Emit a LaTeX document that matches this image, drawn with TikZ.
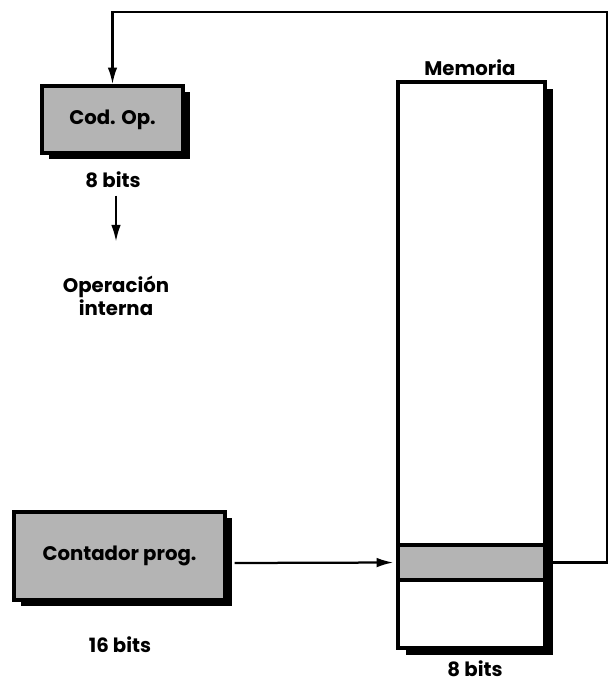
\documentclass[tikz,border=0pt]{standalone}
\usepackage{fontspec}
\setmainfont{Poppins}
\usepackage{tikz}
\usetikzlibrary{arrows.meta,positioning,shadows}
\definecolor{regfill}{HTML}{B4B4B4}

\tikzset{
  regbox/.style={draw=black,line width=2.4pt,fill=regfill,
    font=\bfseries\fontsize{14}{16}\selectfont,inner sep=0pt,
    drop shadow={shadow xshift=0.17cm,shadow yshift=-0.14cm,fill=black,opacity=1}},
  membox/.style={draw=black,line width=2.4pt,fill=white,inner sep=0pt,
    drop shadow={shadow xshift=0.2cm,shadow yshift=-0.18cm,fill=black,opacity=1}},
  lbl/.style={font=\bfseries\fontsize{14}{16}\selectfont,align=center,inner sep=1pt},
  flow/.style={line width=1.6pt,-{Latex[length=0.42cm,width=0.24cm]}}
}

\begin{document}
\begin{tikzpicture}[x=0.025cm,y=-0.025cm]
  \useasboundingbox (0,0) rectangle (611,685);

  % registros
  \node[regbox,minimum width=3.525cm,minimum height=1.675cm] (codop) at (112.5,119.5) {Cod. Op.};
  \node[lbl] (codbits) at (113,180) {8 bits};
  \node[lbl] (interna) at (116,296) {Operación\\interna};
  \node[regbox,minimum width=5.275cm,minimum height=2.2cm] (pc) at (119.5,556) {Contador prog.};
  \node[lbl] (pcbits) at (120,645) {16 bits};

  % memoria
  \node[lbl] (memtit) at (470,68) {Memoria};
  \node[membox,minimum width=3.675cm,minimum height=14.15cm] (mem) at (471.5,365) {};
  \node[draw=black,line width=2.4pt,fill=regfill,minimum width=3.675cm,minimum height=0.875cm,
    inner sep=0pt] (celda) at (471.5,562.5) {};
  \node[lbl] (membits) at (475,669) {8 bits};

  % conexiones
  \coordinate (esq) at (607,12);
  \draw[flow] (codbits.south) ++(3,6) -- ++(0,46);
  \draw[flow,shorten >=2pt] (pc.east) ++(8,7) -- (celda.west);
  \draw[flow] (celda.east) -- (celda.east -| esq) -- (esq) -| (codop.north);
\end{tikzpicture}
\end{document}
